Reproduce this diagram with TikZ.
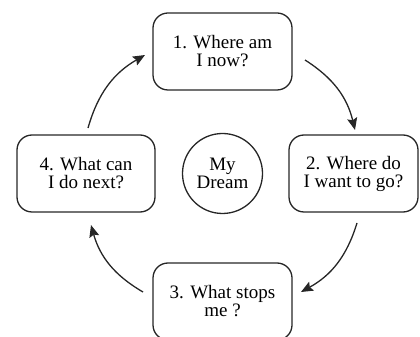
\documentclass[tikz,border=0pt]{standalone}
\usepackage{fontspec}
\setmainfont{Liberation Serif}
\usetikzlibrary{arrows.meta}
\definecolor{ink}{gray}{0.15}
\tikzset{
  qbox/.style={draw=ink, line width=1.3pt, rounded corners=15pt, minimum height=77pt,
    align=center, text=black, inner sep=0pt,
    font=\fontsize{19pt}{18pt}\selectfont},
  dream/.style={draw=ink, line width=1.3pt, circle, minimum size=80pt, align=center,
    inner sep=0pt, font=\fontsize{19pt}{18pt}\selectfont},
  flow/.style={draw=ink, line width=1.3pt, -{Stealth[length=12pt,width=10pt,inset=2pt]}, bend left=22}
}
\begin{document}
\begin{tikzpicture}[x=1pt,y=1pt]
\useasboundingbox (0,0) rectangle (420,337);
\begin{scope}
\clip (0,0) rectangle (420,337);
\node[qbox, minimum width=139pt] (b1) at (222.5,285.5) {1. Where am\\I now?};
\node[qbox, minimum width=129pt] (b2) at (353.5,163.5) {2. Where do\\I want to go?};
\node[qbox, minimum width=139pt] (b3) at (222.5,35.5) {3. What stops\\me ?};
\node[qbox, minimum width=138pt] (b4) at (86,163.5) {4. What can\\I do next?};
\node[dream] (d) at (222.5,163.5) {My\\Dream};
\coordinate (a1s) at (305,277);
\coordinate (a1e) at (355,207);
\coordinate (a2s) at (357,114);
\coordinate (a2e) at (301,45);
\coordinate (a3s) at (143,45);
\coordinate (a3e) at (91,112);
\coordinate (a4s) at (88,209);
\coordinate (a4e) at (145,282);
\draw[flow] (a1s) to (a1e);
\draw[flow] (a2s) to (a2e);
\draw[flow] (a3s) to (a3e);
\draw[flow] (a4s) to (a4e);
\end{scope}
\end{tikzpicture}
\end{document}
